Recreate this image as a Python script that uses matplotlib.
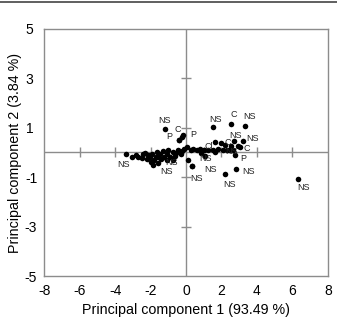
import matplotlib
matplotlib.use("Agg")
import matplotlib.pyplot as plt
from matplotlib.lines import Line2D

plt.rcParams["font.family"] = ["Liberation Sans", "DejaVu Sans"]
plt.rcParams["axes.unicode_minus"] = False

# labelled scores
lab_pc1 = [-1.2, -0.22, -0.38, -0.15, 1.5, 2.54, 3.34, 3.23, 2.91, 2.78, 2.84, 2.2, 6.3,
           0.31, -3.4, -0.71, 0.85, 1.05, -0.9, 1.0, 2.7, 2.2, 2.4]
lab_pc2 = [0.96, 0.62, 0.51, 0.70, 1.02, 1.14, 1.07, 0.45, 0.28, -0.1, -0.66, -0.87, -1.07,
           -0.55, -0.08, -0.32, -0.02, -0.15, -0.2, 0.1, 0.45, 0.3, 0.1]
lab_text = ["NS", "C", "P", "P", "NS", "C", "NS", "NS", "C", "P", "NS", "NS", "NS",
            "NS", "NS", "NS", "NS", "NS", "NS", "Cl", "NS", "C", "NS"]
lab_offset = [(0, 8), (-4, 8), (-10, 3), (10, 1), (3, 8), (3, 10), (4, 10), (9, 3), (9, -3),
              (8, -4), (12, -3), (4, -11), (6, -9), (5, -12), (-2, -10), (-7, -11),
              (4, -6), (6, -13), (1, -5), (5, 4), (2, 6), (3, 3), (3, -1)]

# unlabelled scores
pc1 = [0.36, -0.41, 1.63, 2.0, 2.52,
       -3.06, -2.69, -2.4, -2.29, -2.5, -2.12, -2.03, -1.88, -1.8, -1.93, -1.65, -1.56,
       -1.46, -1.31, -1.24, -1.09, -1.0, -0.75, -0.56, -0.43, -0.24, -0.11, 0.04, 0.13,
       0.26, 0.41, 0.6, 0.79, 1.01, 1.26, 1.5, 1.63, 1.82, 2.07, 2.29, 2.67, 3.04,
       -2.8, -2.2, -1.7, -1.4, -1.1, -0.6, -0.3, -2.0, -1.6]
pc2 = [-0.55, 0.49, 0.43, 0.39, 0.26,
       -0.19, -0.19, -0.05, -0.03, -0.22, -0.12, -0.19, -0.5, -0.32, -0.05, 0.01, -0.19,
       -0.08, 0.05, -0.19, -0.08, 0.08, 0.01, -0.03, 0.11, 0.05, 0.15, 0.22, -0.3,
       0.11, 0.15, 0.08, 0.15, 0.11, 0.12, 0.08, 0.01, 0.15, 0.08, 0.12, 0.08, 0.24,
       -0.1, -0.25, -0.2, -0.28, -0.3, -0.15, -0.05, -0.38, -0.42]

x_ticks = [-8, -6, -4, -2, 0, 2, 4, 6, 8]
y_ticks = [-5, -3, -1, 1, 3, 5]
y_ticklabels = ["-5", "-3", "-1", "1 ", "3 ", "5 "]

grey = "#8c8c8c"

fig = plt.figure(figsize=(3.37, 3.21), dpi=100)
ax = fig.add_axes([0.131, 0.140, 0.842, 0.770])

ax.axhline(0, color=grey, lw=1.0, zorder=1)
ax.axvline(0, color=grey, lw=1.0, zorder=1)
# small cross ticks on the centre lines
ax.plot([t for t in x_ticks if t not in (-8, 0, 8)], [0] * 6, ls="none", marker="|",
        ms=7, mew=1.0, color=grey, zorder=1)
ax.plot([0] * 4, [t for t in y_ticks if t not in (-5, 5)], ls="none", marker="_",
        ms=7, mew=1.0, color=grey, zorder=1)

ax.scatter(pc1 + lab_pc1, pc2 + lab_pc2, s=16, color="black", zorder=3, linewidths=0)
for x, y, t, off in zip(lab_pc1, lab_pc2, lab_text, lab_offset):
    ax.annotate(t, (x, y), xytext=off, textcoords="offset pixels", ha="center",
                va="center", fontsize=6.5, color="#222222", zorder=4)

ax.set_xlim(-8, 8)
ax.set_ylim(-5, 5)
ax.set_xticks(x_ticks)
ax.set_yticks(y_ticks, y_ticklabels)
ax.tick_params(length=0, labelsize=10)
ax.tick_params(axis="x", pad=6)
ax.tick_params(axis="y", pad=5)
for sp in ax.spines.values():
    sp.set_color(grey)
    sp.set_linewidth(1.0)

ax.set_xlabel("Principal component 1 (93.49 %)", fontsize=10.3, labelpad=3)
ax.set_ylabel("Principal component 2 (3.84 %)", fontsize=10.3, labelpad=2)

fig.add_artist(Line2D([0, 1], [0.994, 0.994], color="#444444", lw=1.2))

fig.savefig("out.png", dpi=100)
